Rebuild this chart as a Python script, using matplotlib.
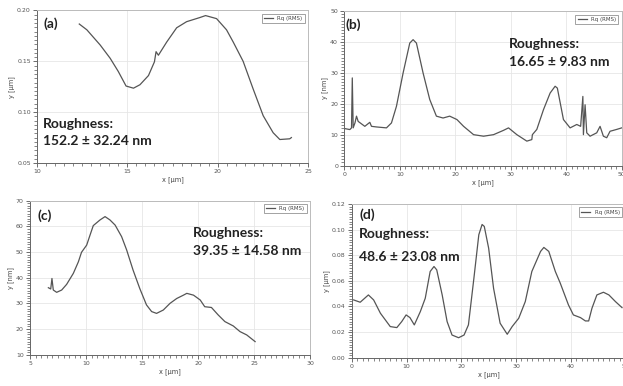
import matplotlib
matplotlib.use("Agg")
import matplotlib.pyplot as plt
from matplotlib.ticker import MultipleLocator, AutoMinorLocator

# ---------------- data ----------------
a_x = [12.34, 12.76, 13.5, 14.05, 14.5, 14.93, 15.34, 15.7, 16.17, 16.5, 16.59, 16.72,
       17.18, 17.73, 18.28, 19.0, 19.33, 19.94, 20.49, 20.86, 21.41, 21.96, 22.52,
       23.07, 23.44, 23.99, 24.08]
a_y = [0.1867, 0.181, 0.166, 0.153, 0.140, 0.1257, 0.1236, 0.127, 0.136, 0.1495, 0.1595,
       0.156, 0.169, 0.183, 0.189, 0.193, 0.195, 0.192, 0.181, 0.169, 0.150, 0.123,
       0.0965, 0.0798, 0.0731, 0.0738, 0.075]

b_x = [0, 1.0, 1.3, 1.44, 1.6, 1.92, 2.2, 2.5, 3.7, 4.6, 4.9, 5.8, 7.6, 8.5, 9.4, 10.6,
       11.8, 12.4, 13.0, 14.2, 15.4, 16.6, 17.8, 19.0, 20.3, 21.5, 23.3, 25.1, 26.9,
       28.7, 29.6, 31.1, 32.9, 33.8, 33.9, 34.7, 35.9, 37.1, 38.0, 38.4, 39.5, 40.7,
       41.9, 42.6, 43.0, 43.1, 43.4, 43.7, 44.3, 45.5, 46.1, 46.7, 47.3, 47.9, 49.1, 50]
b_y = [12.0, 11.65, 12.2, 28.4, 12.2, 13.8, 16.0, 14.3, 12.7, 14.0, 12.7, 12.5, 12.2,
       13.8, 19.2, 30.0, 39.7, 40.8, 39.7, 30.0, 21.4, 16.0, 15.4, 16.0, 14.9, 12.7,
       10.0, 9.5, 10.0, 11.4, 12.2, 10.0, 7.9, 8.4, 10.0, 11.7, 18.1, 23.5, 25.7, 25.1,
       14.9, 12.2, 13.3, 12.7, 22.4, 10.0, 19.7, 10.6, 9.5, 10.6, 12.7, 9.5, 9.0,
       11.1, 11.7, 12.2]

c_x = [6.64, 6.85, 6.96, 7.08, 7.38, 7.83, 8.27, 8.87, 9.32, 9.6, 10.06, 10.36, 10.65,
       11.25, 11.7, 12.14, 12.6, 13.18, 13.63, 14.2, 14.8, 15.4, 15.86, 16.3, 16.9,
       17.5, 18.1, 18.7, 19.0, 19.6, 20.2, 20.6, 21.2, 21.8, 22.4, 23.15, 23.75, 24.35,
       25.1]
c_y = [36.1, 35.6, 39.7, 35.2, 34.3, 35.2, 37.4, 41.7, 46.2, 49.9, 52.7, 56.6, 60.3,
       62.5, 63.8, 62.5, 60.5, 56.0, 50.8, 43.0, 35.8, 29.4, 26.8, 26.1, 27.4, 30.0,
       31.9, 33.2, 33.9, 33.2, 31.3, 28.7, 28.4, 25.5, 22.9, 21.2, 19.0, 17.7, 15.1]

d_x = [0.3, 1.5, 3.0, 3.96, 5.2, 7.0, 8.2, 9.1, 9.9, 10.6, 11.4, 12.5, 13.4, 14.3, 15.0,
       15.5, 16.5, 17.4, 18.3, 19.5, 20.5, 21.3, 22.3, 23.2, 23.8, 24.2, 25.0, 25.9,
       27.1, 28.4, 29.3, 30.5, 31.7, 32.9, 34.5, 35.1, 36.0, 37.2, 38.1, 39.6, 40.5,
       41.8, 42.7, 43.3, 43.9, 44.8, 46.0, 47.0, 48.2, 49.4]
d_y = [0.0451, 0.0433, 0.049, 0.0451, 0.0347, 0.0243, 0.0235, 0.0282, 0.0334, 0.0313,
       0.0256, 0.036, 0.0464, 0.0673, 0.0712, 0.0686, 0.049, 0.0282, 0.0177, 0.0156,
       0.0177, 0.0256, 0.062, 0.096, 0.104, 0.1025, 0.0855, 0.0542, 0.0269, 0.0183,
       0.0243, 0.0308, 0.0438, 0.0673, 0.083, 0.0861, 0.083, 0.0673, 0.0582, 0.0412,
       0.0334, 0.0313, 0.0287, 0.0287, 0.0386, 0.049, 0.0511, 0.049, 0.0438, 0.0391]

panel_labels = ["(a)", "(b)", "(c)", "(d)"]
roughness = ["152.2 ± 32.24 nm", "16.65 ± 9.83 nm", "39.35 ± 14.58 nm", "48.6 ± 23.08 nm"]
ylabels = ["y [µm]", "y [nm]", "y [nm]", "y [µm]"]
legend_label = "Rq (RMS)"

# ---------------- figure ----------------
W, H = 623, 386
fig = plt.figure(figsize=(W / 100, H / 100), dpi=100)

def rect(l, r, t, b):
    return [l / W, 1 - b / H, (r - l) / W, (b - t) / H]

specs = [
    dict(x=a_x, y=a_y, pos=rect(37, 308, 10.5, 163), xlim=(10, 25), ylim=(0.05, 0.20),
         xmaj=5, xmin=10, ymaj=0.05, ymin=12, yfmt="{:.2f}",
         lab=(43, 28), r1=(43, 128), r2=(43, 145)),
    dict(x=b_x, y=b_y, pos=rect(344.3, 621.7, 11.3, 165.5), xlim=(0, 50), ylim=(0, 50),
         xmaj=10, xmin=10, ymaj=10, ymin=10, yfmt="{:.0f}",
         lab=(345, 29), r1=(509, 48), r2=(509, 66)),
    dict(x=c_x, y=c_y, pos=rect(30, 310, 200.7, 354.7), xlim=(5, 30), ylim=(10, 70),
         xmaj=5, xmin=10, ymaj=10, ymin=10, yfmt="{:.0f}",
         lab=(38, 220), r1=(193, 237), r2=(193, 255)),
    dict(x=d_x, y=d_y, pos=rect(352, 625.3, 204, 357.7), xlim=(0, 50), ylim=(0, 0.12),
         xmaj=10, xmin=10, ymaj=0.02, ymin=10, yfmt="{:.2f}",
         lab=(360, 219), r1=(359, 238), r2=(359, 261)),
]

tickcol = "#555555"
font = ["Lato", "DejaVu Sans"]

for i, s in enumerate(specs):
    ax = fig.add_axes(s["pos"])
    ax.plot(s["x"], s["y"], color="#555555", lw=0.9, label=legend_label)
    ax.set_xlim(*s["xlim"])
    ax.set_ylim(*s["ylim"])
    ax.xaxis.set_major_locator(MultipleLocator(s["xmaj"]))
    ax.xaxis.set_minor_locator(AutoMinorLocator(s["xmin"]))
    ax.yaxis.set_major_locator(MultipleLocator(s["ymaj"]))
    ax.yaxis.set_minor_locator(AutoMinorLocator(s["ymin"]))
    fmt = s["yfmt"]
    ax.yaxis.set_major_formatter(matplotlib.ticker.FuncFormatter(lambda v, p, f=fmt: f.format(v)))
    ax.tick_params(which="major", direction="out", length=3, width=0.6, colors=tickcol,
                   labelsize=4.5, pad=1.5)
    ax.tick_params(which="minor", direction="out", length=2, width=0.5, colors=tickcol)
    for side in ("left", "bottom"):
        ax.spines[side].set_color("#666666")
        ax.spines[side].set_linewidth(0.7)
    for side in ("top", "right"):
        ax.spines[side].set_color("#bbbbbb")
        ax.spines[side].set_linewidth(0.7)
    ax.grid(True, which="major", color="#e6e6e6", lw=0.6)
    ax.set_axisbelow(True)
    ax.set_xlabel("x [µm]", fontsize=4.8, color="#444444", labelpad=1.5)
    ax.set_ylabel(ylabels[i], fontsize=4.8, color="#444444", labelpad=1.5)
    leg = ax.legend(loc="upper right", fontsize=4, frameon=True, fancybox=False,
                    handlelength=1.6, borderpad=0.4, borderaxespad=0.6)
    leg.get_frame().set_edgecolor("#777777")
    leg.get_frame().set_linewidth(0.6)
    for t in leg.get_texts():
        t.set_color("#444444")
    lx, ly = s["lab"]
    fig.text(lx / W, 1 - ly / H, panel_labels[i], fontsize=10, fontweight="bold",
             family=font, color="#222222", va="baseline")
    x1, y1 = s["r1"]
    fig.text(x1 / W, 1 - y1 / H, "Roughness:", fontsize=10, fontweight="bold",
             family=font, color="#222222", va="baseline")
    x2, y2 = s["r2"]
    fig.text(x2 / W, 1 - y2 / H, roughness[i], fontsize=10, fontweight="bold",
             family=font, color="#222222", va="baseline")

fig.savefig("out.png", dpi=100)
